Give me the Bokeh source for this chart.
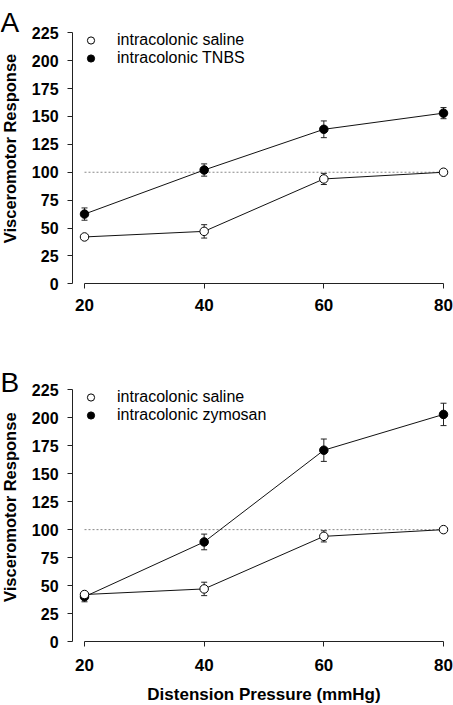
import math
from bokeh.plotting import figure
from bokeh.layouts import column
from bokeh.models import (ColumnDataSource, Whisker, TeeHead, Legend, LegendItem,
                          FixedTicker, Label)
from bokeh.embed import file_html
from bokeh.resources import INLINE

# ---- data ----
pressure = [20, 40, 60, 80]
y_ticks = [0, 25, 50, 75, 100, 125, 150, 175, 200, 225]
x_ticks = [20, 40, 60, 80]
ref_x = [20, 80]
ref_y = [100, 100]

saline_a = [42, 47, 94, 100]
saline_a_err = [2, 6, 5, 0]
tnbs = [62.5, 102, 138.5, 153]
tnbs_err = [5.5, 5.5, 7.5, 5]

saline_b = [42, 47, 94, 100]
saline_b_err = [2, 6, 5, 0]
zymosan = [40, 89, 171, 203]
zymosan_err = [4.5, 7, 10, 10]

FONT = "Liberation Sans"
AXC = "#222222"


def panel(letter, open_vals, open_err, open_label, fill_vals, fill_err, fill_label,
          height, y_lo, y_hi, letter_y, title_y, legend_y, tick_standoff, xtitle=None):
    p = figure(width=453, height=height, x_range=(5.961, 81.671), y_range=(y_lo, y_hi),
               output_backend="svg", toolbar_location=None,
               min_border_left=0, min_border_right=0,
               min_border_top=0, min_border_bottom=0)
    p.outline_line_color = None
    p.grid.visible = False
    p.background_fill_color = "white"

    # axes (offset, SigmaPlot-like)
    for ax in (p.xaxis[0], p.yaxis[0]):
        ax.axis_line_color = AXC
        ax.major_tick_line_color = AXC
        ax.major_tick_out = 5
        ax.major_tick_in = 0
        ax.minor_tick_line_color = None
        ax.major_label_text_font = FONT
        ax.major_label_text_font_style = "bold"
        ax.major_label_text_color = "black"
    p.yaxis.ticker = FixedTicker(ticks=y_ticks)
    p.xaxis.ticker = FixedTicker(ticks=x_ticks)
    p.yaxis.bounds = (0, 225)
    p.xaxis.bounds = (20, 80)
    p.yaxis.fixed_location = 18
    p.xaxis.fixed_location = 0
    p.yaxis.major_label_text_font_size = "16px"
    p.xaxis.major_label_text_font_size = "17px"
    p.yaxis.major_label_standoff = 9
    p.xaxis.major_label_standoff = tick_standoff
    if xtitle:
        p.xaxis.axis_label = xtitle
        p.xaxis.axis_label_text_font = FONT
        p.xaxis.axis_label_text_font_style = "bold"
        p.xaxis.axis_label_text_font_size = "17px"
        p.xaxis.axis_label_text_color = "black"
        p.xaxis.axis_label_standoff = 11

    # y-axis title
    p.add_layout(Label(x=9.5, y=title_y, x_units="screen", y_units="screen",
                       text="Visceromotor Response", angle=math.pi / 2,
                       text_align="center", text_baseline="middle",
                       text_font=FONT, text_font_style="bold",
                       text_font_size="16.5px", text_color="black"))
    # panel letter
    p.add_layout(Label(x=0, y=letter_y, x_units="screen", y_units="screen",
                       text=letter, text_align="left", text_baseline="alphabetic",
                       text_font=FONT, text_font_size="28px", text_color="black"))

    # reference dotted line
    p.line(ref_x, ref_y, line_color="#888888", line_width=1, line_dash="2 2")

    # error bars
    for vals, err in ((open_vals, open_err), (fill_vals, fill_err)):
        src = ColumnDataSource(dict(x=pressure,
                                    lo=[v - e for v, e in zip(vals, err)],
                                    hi=[v + e for v, e in zip(vals, err)]))
        w = Whisker(base="x", lower="lo", upper="hi", source=src, level="underlay",
                    line_color=AXC, line_width=1,
                    upper_head=TeeHead(size=6, line_color=AXC, line_width=1),
                    lower_head=TeeHead(size=6, line_color=AXC, line_width=1))
        p.add_layout(w)

    # series
    p.line(pressure, open_vals, line_color="#111111", line_width=1)
    p.line(pressure, fill_vals, line_color="#111111", line_width=1)
    r_fill = p.scatter(pressure, fill_vals, marker="circle", size=8.5,
                       fill_color="black", line_color="black", line_width=1)
    r_open = p.scatter(pressure, open_vals, marker="circle", size=8.5,
                       fill_color="white", line_color="black", line_width=1)

    legend = Legend(items=[LegendItem(label=open_label, renderers=[r_open]),
                           LegendItem(label=fill_label, renderers=[r_fill])],
                    location=(72, legend_y), margin=0, padding=0, spacing=0,
                    glyph_width=37, glyph_height=18, label_height=18,
                    label_standoff=8, border_line_color=None,
                    background_fill_alpha=0,
                    label_text_font=FONT, label_text_font_size="16px",
                    label_text_color="black")
    p.add_layout(legend)
    return p


pA = panel("A", saline_a, saline_a_err, "intracolonic saline",
           tnbs, tnbs_err, "intracolonic TNBS",
           height=330, y_lo=-41.86, y_hi=253.96,
           letter_y=308.3, title_y=182, legend_y=263, tick_standoff=10)
pB = panel("B", saline_b, saline_b_err, "intracolonic saline",
           zymosan, zymosan_err, "intracolonic zymosan",
           height=375, y_lo=-57.21, y_hi=278.01,
           letter_y=323.3, title_y=198.3, legend_y=280.7, tick_standoff=12,
           xtitle="Distension Pressure (mmHg)")

layout = column(pA, pB, spacing=0)
open("out.html", "w").write(file_html(layout, INLINE))
